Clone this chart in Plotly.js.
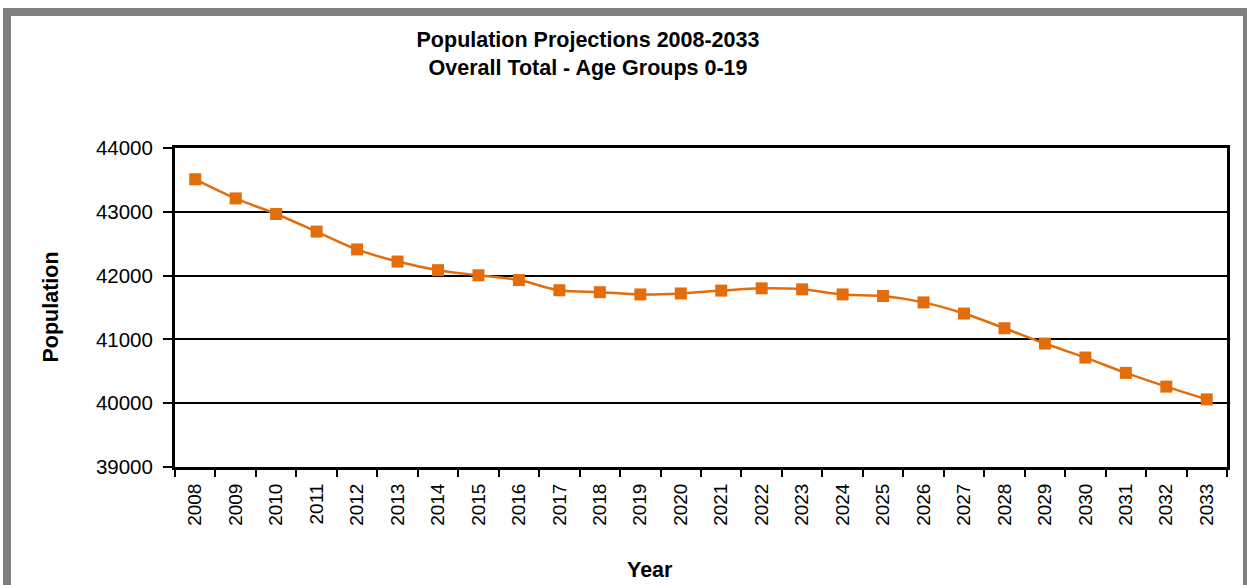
<!DOCTYPE html>
<html>
<head>
<meta charset="utf-8">
<script src="https://cdn.plot.ly/plotly-3.0.1.min.js"></script>
<style>
html, body { margin: 0; padding: 0; background: #ffffff; }
#chart { width: 1247px; height: 585px; }
</style>
</head>
<body>
<div id="chart"></div>
<script>
// Data
const years = ["2008","2009","2010","2011","2012","2013","2014","2015","2016","2017","2018","2019","2020",
               "2021","2022","2023","2024","2025","2026","2027","2028","2029","2030","2031","2032","2033"];
const population = [43510, 43210, 42965, 42690, 42410, 42220, 42085, 42005, 41930, 41770, 41740, 41705, 41720,
                    41765, 41800, 41785, 41705, 41680, 41580, 41405, 41175, 40935, 40715, 40475, 40260, 40060];
const yTicks = [39000, 40000, 41000, 42000, 43000, 44000];

const chartTitle = "Population Projections 2008-2033<br>Overall Total - Age Groups 0-19";
const xTitle = "Year";
const yTitle = "Population";

const orange = "#E46C0A";
const font = "Arial, 'Liberation Sans', sans-serif";

const trace = {
  x: years,
  y: population,
  type: "scatter",
  mode: "lines+markers",
  line: { color: orange, width: 2.5, shape: "spline", smoothing: 1 },
  marker: { symbol: "square", size: 12, color: orange },
  hoverinfo: "x+y",
  showlegend: false
};

const layout = {
  width: 1247,
  height: 585,
  margin: { l: 175, r: 20, t: 148, b: 118, pad: 0 },
  paper_bgcolor: "#ffffff",
  plot_bgcolor: "#ffffff",
  font: { family: font, color: "#000000" },
  title: {
    text: chartTitle,
    font: { family: font, size: 21.5, color: "#000000", weight: "bold" },
    x: 588 / 1247,
    xanchor: "center",
    xref: "container",
    y: 1 - 47 / 585,
    yanchor: "middle",
    yref: "container"
  },
  xaxis: {
    type: "category",
    range: [-0.5, years.length - 0.5],
    showline: true,
    linecolor: "#000000",
    linewidth: 3,
    mirror: true,
    showgrid: false,
    ticks: "outside",
    tickson: "boundaries",
    ticklen: 7,
    tickwidth: 2,
    tickcolor: "#000000",
    tickangle: -90,
    tickfont: { family: font, size: 19, color: "#000000" },
    ticklabelstandoff: 6,
    zeroline: false,
    fixedrange: true
  },
  yaxis: {
    range: [39000, 44000],
    tickvals: yTicks,
    ticktext: yTicks.map(String),
    showline: true,
    linecolor: "#000000",
    linewidth: 3,
    mirror: true,
    showgrid: true,
    gridcolor: "#000000",
    gridwidth: 2,
    ticks: "outside",
    ticklen: 9,
    tickwidth: 2,
    tickcolor: "#000000",
    tickfont: { family: font, size: 20.5, color: "#000000" },
    ticklabelstandoff: 6,
    zeroline: false,
    fixedrange: true
  },
  annotations: [
    {
      text: yTitle,
      textangle: -90,
      xref: "paper", yref: "paper",
      x: (50 - 175) / 1052, y: 0.5,
      xanchor: "center", yanchor: "middle",
      showarrow: false,
      font: { family: font, size: 21.5, color: "#000000", weight: "bold" }
    },
    {
      text: xTitle,
      xref: "paper", yref: "paper",
      x: (649.5 - 175) / 1052, y: (467 - 570) / 319,
      xanchor: "center", yanchor: "middle",
      showarrow: false,
      font: { family: font, size: 21.5, color: "#000000", weight: "bold" }
    }
  ],
  shapes: [
    {
      type: "rect",
      xref: "paper", yref: "paper",
      x0: (7 - 175) / 1052, x1: (1247 - 175) / 1052,
      y0: (467 - 620) / 319, y1: (467 - 12) / 319,
      line: { color: "#808080", width: 8 },
      fillcolor: "rgba(0,0,0,0)",
      layer: "below"
    }
  ]
};

Plotly.newPlot("chart", [trace], layout, { displayModeBar: false, staticPlot: true });
</script>
</body>
</html>
